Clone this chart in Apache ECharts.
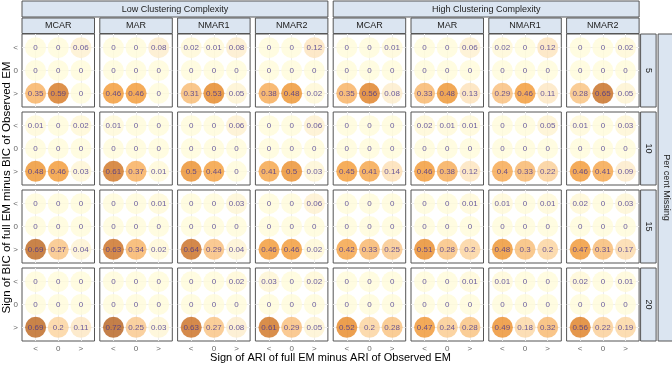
<!DOCTYPE html>
<html>
<head>
<meta charset="utf-8">
<script src="https://cdn.jsdelivr.net/npm/echarts@6/dist/echarts.min.js"></script>
<style>
html,body{margin:0;padding:0;background:#fff;}
#chart{width:672px;height:367px;}
</style>
</head>
<body>
<div id="chart"></div>
<script>
// ---------------- DATA ----------------
const signs = ['<', '0', '>'];
const missingLevels = ['5', '10', '15', '20'];
const complexities = ['Low Clustering Complexity', 'High Clustering Complexity'];
const mechanisms = ['MCAR', 'MAR', 'NMAR1', 'NMAR2'];
// Each array: 8 panels (Low: MCAR, MAR, NMAR1, NMAR2; High: MCAR, MAR, NMAR1, NMAR2).
// Each panel: 9 proportions, row-major by BIC sign ('<','0','>'), columns by ARI sign ('<','0','>').
const missing5 = [
  [0, 0, 0.06, 0, 0, 0, 0.35, 0.59, 0],
  [0, 0, 0.08, 0, 0, 0, 0.46, 0.46, 0],
  [0.02, 0.01, 0.08, 0, 0, 0, 0.31, 0.53, 0.05],
  [0, 0, 0.12, 0, 0, 0, 0.38, 0.48, 0.02],
  [0, 0, 0.01, 0, 0, 0, 0.35, 0.56, 0.08],
  [0, 0, 0.06, 0, 0, 0, 0.33, 0.48, 0.13],
  [0.02, 0, 0.12, 0, 0, 0, 0.29, 0.46, 0.11],
  [0, 0, 0.02, 0, 0, 0, 0.28, 0.65, 0.05]
];
const missing10 = [
  [0.01, 0, 0.02, 0, 0, 0, 0.48, 0.46, 0.03],
  [0.01, 0, 0, 0, 0, 0, 0.61, 0.37, 0.01],
  [0, 0, 0.06, 0, 0, 0, 0.5, 0.44, 0],
  [0, 0, 0.06, 0, 0, 0, 0.41, 0.5, 0.03],
  [0, 0, 0, 0, 0, 0, 0.45, 0.41, 0.14],
  [0.02, 0.01, 0.01, 0, 0, 0, 0.46, 0.38, 0.12],
  [0, 0, 0.05, 0, 0, 0, 0.4, 0.33, 0.22],
  [0.01, 0, 0.03, 0, 0, 0, 0.46, 0.41, 0.09]
];
const missing15 = [
  [0, 0, 0, 0, 0, 0, 0.69, 0.27, 0.04],
  [0, 0, 0.01, 0, 0, 0, 0.63, 0.34, 0.02],
  [0, 0, 0.03, 0, 0, 0, 0.64, 0.29, 0.04],
  [0, 0, 0.06, 0, 0, 0, 0.46, 0.46, 0.02],
  [0, 0, 0, 0, 0, 0, 0.42, 0.33, 0.25],
  [0, 0, 0.01, 0, 0, 0, 0.51, 0.28, 0.2],
  [0.01, 0, 0.01, 0, 0, 0, 0.48, 0.3, 0.2],
  [0.02, 0, 0.03, 0, 0, 0, 0.47, 0.31, 0.17]
];
const missing20 = [
  [0, 0, 0, 0, 0, 0, 0.69, 0.2, 0.11],
  [0, 0, 0, 0, 0, 0, 0.72, 0.25, 0.03],
  [0, 0, 0.02, 0, 0, 0, 0.63, 0.27, 0.08],
  [0.03, 0, 0.02, 0, 0, 0, 0.61, 0.29, 0.05],
  [0, 0, 0, 0, 0, 0, 0.52, 0.2, 0.28],
  [0, 0, 0.01, 0, 0, 0, 0.47, 0.24, 0.28],
  [0.01, 0, 0, 0, 0, 0, 0.49, 0.18, 0.32],
  [0.02, 0, 0.01, 0, 0, 0, 0.56, 0.22, 0.19]
];
const xTitle = 'Sign of ARI of full EM minus ARI of Observed EM';
const yTitle = 'Sign of BIC of full EM minus BIC of Observed EM';
const facetTitle = 'Per cent Missing';

// ---------------- LAYOUT ----------------
const rowsData = [missing5, missing10, missing15, missing20];
const FONT = '"Liberation Sans", Arial, sans-serif';
const panelLeft0 = 22, panelStepX = 77.8, panelW = 72.5;
const panelTop0 = 34, panelStepY = 78, panelH = 73;
const stripFill = '#dbe5f1', borderCol = '#555555';

const grids = [], xAxes = [], yAxes = [], series = [], graphics = [];
const scatterIdx = [];

rowsData.forEach((rowArr, r) => {
  rowArr.forEach((vals, c) => {
    const gi = grids.length;
    const left = panelLeft0 + c * panelStepX;
    const top = panelTop0 + r * panelStepY;
    grids.push({left: left, top: top, width: panelW, height: panelH,
      show: true, borderColor: borderCol, borderWidth: 1, backgroundColor: '#fff'});
    const showX = r === rowsData.length - 1;
    const showY = c === 0;
    const common = {
      type: 'value', gridIndex: gi, min: -0.6, max: 2.6,
      axisLine: {show: false},
      splitLine: {show: false},
      axisTick: {show: true, length: 3, lineStyle: {color: '#777'}, customValues: [0, 1, 2]},
      axisLabel: {customValues: [0, 1, 2], formatter: v => signs[Math.round(v)],
        color: '#666', fontSize: 8, fontFamily: FONT, margin: 4}
    };
    xAxes.push(Object.assign({}, common, {
      axisTick: Object.assign({}, common.axisTick, {show: showX}),
      axisLabel: Object.assign({}, common.axisLabel, {show: showX})
    }));
    yAxes.push(Object.assign({}, common, {
      inverse: true,
      axisTick: Object.assign({}, common.axisTick, {show: showY}),
      axisLabel: Object.assign({}, common.axisLabel, {show: showY})
    }));
    // grid lines at category positions
    series.push({
      type: 'line', xAxisIndex: gi, yAxisIndex: gi, data: [], z: 1, zlevel: 0, silent: true,
      markLine: {silent: true, z: 1, symbol: 'none', label: {show: false}, animation: false,
        lineStyle: {color: '#ececec', width: 1, type: 'solid'},
        emphasis: {disabled: true},
        data: [0, 1, 2].map(v => ({xAxis: v})).concat([0, 1, 2].map(v => ({yAxis: v})))}
    });
    const pts = [];
    for (let bi = 0; bi < 3; bi++) for (let ai = 0; ai < 3; ai++) pts.push([ai, bi, vals[bi * 3 + ai]]);
    scatterIdx.push(series.length);
    series.push({
      type: 'scatter', xAxisIndex: gi, yAxisIndex: gi, z: 3, zlevel: 1, symbolSize: 21,
      data: pts,
      label: {show: true, position: 'inside', formatter: p => String(p.value[2]),
        color: '#43338c', fontSize: 8, fontFamily: FONT}
    });
  });
});

// strips
const stripText = {fill: '#222', fontSize: 9, fontFamily: FONT, align: 'center', verticalAlign: 'middle'};
complexities.forEach((t, g) => {
  const x0 = panelLeft0 + g * 4 * panelStepX;
  const x1 = panelLeft0 + (g * 4 + 3) * panelStepX + panelW;
  graphics.push({type: 'rect', shape: {x: x0, y: 1, width: x1 - x0, height: 16},
    style: {fill: stripFill, stroke: borderCol, lineWidth: 1}});
  graphics.push({type: 'text', x: (x0 + x1) / 2, y: 9.5, style: Object.assign({text: t}, stripText)});
  mechanisms.forEach((m, k) => {
    const xl = panelLeft0 + (g * 4 + k) * panelStepX;
    graphics.push({type: 'rect', shape: {x: xl, y: 18, width: panelW, height: 15.5},
      style: {fill: stripFill, stroke: borderCol, lineWidth: 1}});
    graphics.push({type: 'text', x: xl + panelW / 2, y: 26, style: Object.assign({text: m}, stripText)});
  });
});
const rightX = panelLeft0 + 7 * panelStepX + panelW;
missingLevels.forEach((t, r) => {
  const yt = panelTop0 + r * panelStepY;
  graphics.push({type: 'rect', shape: {x: rightX + 1.5, y: yt, width: 15.5, height: panelH},
    style: {fill: stripFill, stroke: borderCol, lineWidth: 1}});
  graphics.push({type: 'text', x: rightX + 9.5, y: yt + panelH / 2, rotation: -Math.PI / 2,
    style: Object.assign({text: t}, stripText)});
});
const facetBottom = panelTop0 + 3 * panelStepY + panelH;
graphics.push({type: 'rect', shape: {x: rightX + 19, y: panelTop0, width: 16, height: facetBottom - panelTop0},
  style: {fill: stripFill, stroke: borderCol, lineWidth: 1}});
graphics.push({type: 'text', x: rightX + 27, y: (panelTop0 + facetBottom) / 2, rotation: -Math.PI / 2,
  style: Object.assign({text: facetTitle}, stripText)});
// axis titles
graphics.push({type: 'text', x: (panelLeft0 + rightX) / 2, y: 358,
  style: {text: xTitle, fill: '#000', fontSize: 11, fontFamily: FONT, align: 'center', verticalAlign: 'middle'}});
graphics.push({type: 'text', x: 6.5, y: (panelTop0 + facetBottom) / 2, rotation: Math.PI / 2,
  style: {text: yTitle, fill: '#000', fontSize: 11.5, fontFamily: FONT, align: 'center', verticalAlign: 'middle'}});

const chart = echarts.init(document.getElementById('chart'), null, {renderer: 'canvas'});
chart.setOption({
  animation: false,
  backgroundColor: '#fff',
  grid: grids, xAxis: xAxes, yAxis: yAxes,
  visualMap: {
    show: false, type: 'continuous', min: 0, max: 0.72, dimension: 2, seriesIndex: scatterIdx,
    inRange: {color: ['#fffbd9', '#fdeac8', '#fbd6a3', '#f9c280', '#f7ad5a', '#f49a33', '#e3821f', '#cb6d1e', '#b55f1b']}
  },
  series: series,
  graphic: graphics
});
</script>
</body>
</html>
